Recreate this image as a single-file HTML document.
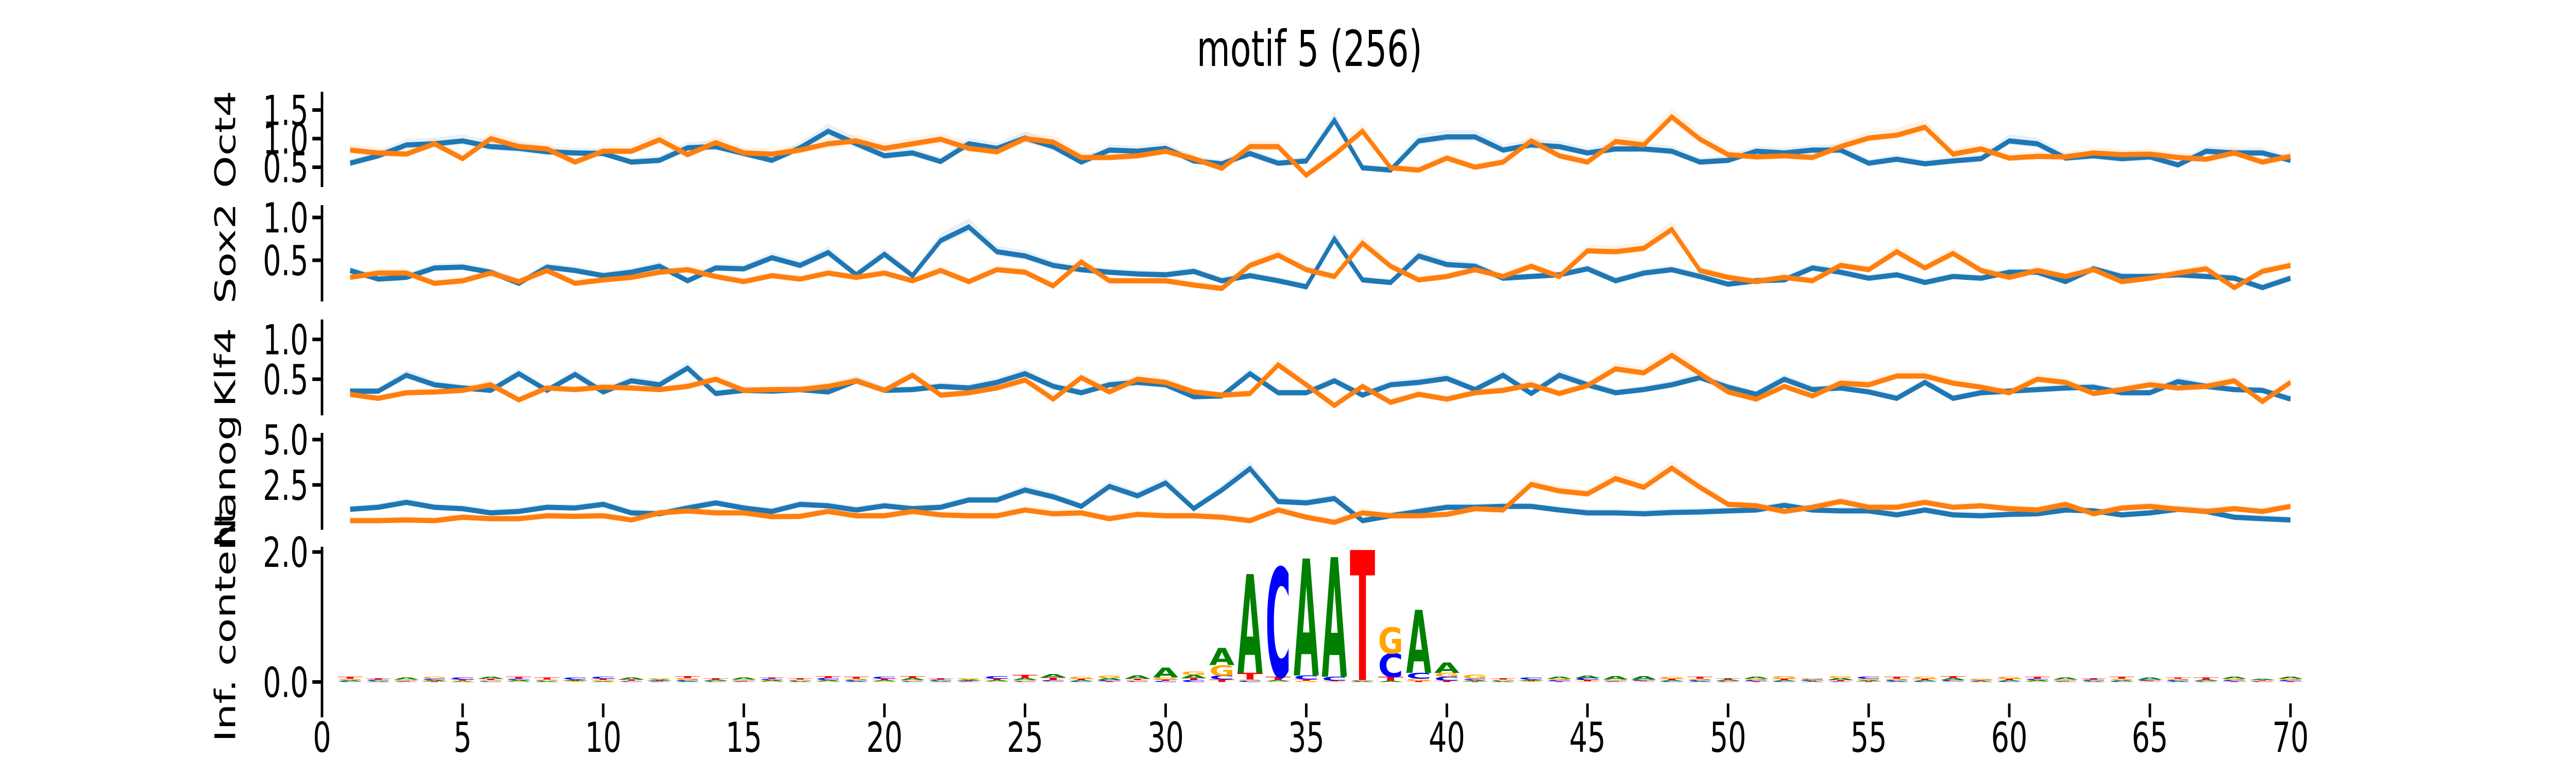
<!DOCTYPE html>
<html><head><meta charset="utf-8"><style>
html,body{margin:0;padding:0;background:#fff;width:100%;height:100%;overflow:hidden;}
svg{display:block;width:100vw;height:100vh;}
text{font-family:"DejaVu Sans","Liberation Sans",sans-serif;}
</style></head><body>
<svg id="chart" viewBox="0 0 7200 1500" preserveAspectRatio="none" xmlns="http://www.w3.org/2000/svg">
<text x="3660" y="128" font-size="96" text-anchor="middle">motif 5 (256)</text>
<g id="plots"></g>
</svg>
<script>
const positions = Array.from({length:70},(_,i)=>i+1);
const oct4Blue = [0.57,0.70,0.89,0.91,0.96,0.86,0.83,0.77,0.75,0.74,0.59,0.62,0.84,0.86,0.74,0.62,0.84,1.13,0.91,0.70,0.75,0.60,0.91,0.83,1.01,0.86,0.59,0.80,0.78,0.83,0.61,0.56,0.74,0.57,0.61,1.32,0.49,0.45,0.96,1.03,1.03,0.80,0.89,0.86,0.75,0.82,0.82,0.78,0.59,0.62,0.78,0.75,0.80,0.80,0.57,0.64,0.56,0.61,0.65,0.96,0.91,0.66,0.70,0.65,0.68,0.54,0.78,0.75,0.75,0.62];
const oct4Orange = [0.80,0.75,0.73,0.91,0.65,1.00,0.86,0.82,0.59,0.78,0.78,0.98,0.72,0.93,0.75,0.73,0.80,0.91,0.96,0.83,0.91,0.99,0.83,0.77,1.00,0.94,0.67,0.67,0.70,0.78,0.65,0.48,0.86,0.86,0.36,0.72,1.13,0.49,0.45,0.66,0.50,0.59,0.96,0.70,0.59,0.95,0.89,1.38,0.99,0.72,0.68,0.70,0.67,0.86,1.01,1.06,1.20,0.73,0.82,0.66,0.69,0.68,0.75,0.72,0.73,0.67,0.64,0.75,0.59,0.69];
const sox2Blue = [0.38,0.28,0.30,0.41,0.42,0.36,0.23,0.42,0.38,0.32,0.36,0.43,0.26,0.41,0.40,0.53,0.44,0.59,0.33,0.57,0.32,0.73,0.89,0.60,0.55,0.44,0.39,0.36,0.34,0.33,0.37,0.26,0.32,0.26,0.19,0.75,0.27,0.24,0.55,0.45,0.43,0.29,0.31,0.33,0.40,0.26,0.35,0.39,0.31,0.22,0.26,0.27,0.41,0.36,0.29,0.33,0.24,0.31,0.29,0.36,0.36,0.25,0.40,0.31,0.31,0.33,0.31,0.29,0.18,0.29];
const sox2Orange = [0.30,0.35,0.35,0.23,0.26,0.35,0.25,0.38,0.23,0.27,0.30,0.36,0.39,0.31,0.25,0.32,0.28,0.35,0.30,0.35,0.26,0.38,0.25,0.39,0.36,0.20,0.48,0.26,0.26,0.26,0.21,0.17,0.44,0.56,0.39,0.31,0.70,0.43,0.27,0.31,0.39,0.31,0.43,0.31,0.61,0.60,0.64,0.86,0.38,0.30,0.25,0.30,0.26,0.44,0.39,0.60,0.41,0.58,0.38,0.30,0.38,0.31,0.39,0.25,0.29,0.35,0.40,0.18,0.37,0.44];
const klf4Blue = [0.35,0.35,0.55,0.43,0.39,0.36,0.57,0.36,0.56,0.34,0.48,0.43,0.64,0.32,0.36,0.35,0.37,0.34,0.48,0.36,0.37,0.41,0.39,0.46,0.57,0.41,0.33,0.43,0.46,0.43,0.28,0.29,0.57,0.33,0.33,0.48,0.30,0.43,0.46,0.51,0.37,0.55,0.32,0.55,0.43,0.33,0.37,0.43,0.52,0.40,0.31,0.50,0.37,0.39,0.34,0.26,0.46,0.26,0.33,0.35,0.37,0.39,0.40,0.33,0.33,0.47,0.41,0.37,0.36,0.25];
const klf4Orange = [0.31,0.26,0.33,0.34,0.36,0.43,0.24,0.39,0.37,0.40,0.39,0.37,0.41,0.50,0.36,0.37,0.37,0.41,0.48,0.36,0.55,0.30,0.33,0.39,0.49,0.25,0.52,0.34,0.50,0.46,0.34,0.30,0.32,0.68,0.43,0.17,0.41,0.21,0.31,0.25,0.33,0.36,0.43,0.32,0.42,0.63,0.58,0.80,0.57,0.34,0.25,0.41,0.29,0.45,0.43,0.54,0.54,0.45,0.40,0.33,0.50,0.46,0.32,0.37,0.43,0.39,0.41,0.48,0.22,0.46];
const nanogBlue = [1.16,1.27,1.54,1.27,1.19,0.96,1.04,1.27,1.23,1.43,0.96,0.91,1.23,1.51,1.23,1.04,1.43,1.35,1.12,1.35,1.19,1.27,1.67,1.67,2.22,1.85,1.32,2.42,1.90,2.61,1.20,2.22,3.40,1.59,1.51,1.75,0.53,0.80,1.04,1.27,1.27,1.32,1.32,1.12,0.96,0.96,0.91,0.98,1.01,1.07,1.12,1.38,1.12,1.07,1.07,0.85,1.12,0.85,0.80,0.88,0.91,1.12,1.07,0.85,0.96,1.16,1.04,0.72,0.64,0.57];
const nanogOrange = [0.53,0.53,0.57,0.53,0.72,0.64,0.64,0.80,0.77,0.80,0.57,0.96,1.07,0.96,0.96,0.75,0.77,1.04,0.80,0.80,1.04,0.85,0.80,0.80,1.12,0.91,0.96,0.64,0.88,0.80,0.80,0.72,0.53,1.12,0.72,0.44,0.96,0.80,0.80,0.88,1.19,1.12,2.53,2.17,2.01,2.85,2.37,3.43,2.37,1.43,1.35,1.04,1.27,1.59,1.27,1.27,1.54,1.27,1.35,1.19,1.12,1.43,0.91,1.23,1.32,1.16,1.04,1.19,1.04,1.32];
const bitsA = [0.02,0.01,0.03,0.02,0.01,0.03,0.02,0.01,0.02,0.01,0.03,0.02,0.01,0.02,0.03,0.02,0.01,0.02,0.01,0.02,0.03,0.01,0.02,0.02,0.03,0.05,0.02,0.03,0.05,0.15,0.05,0.26,1.52,0.02,1.80,1.84,0.01,0.02,0.97,0.16,0.02,0.01,0.02,0.03,0.04,0.05,0.05,0.02,0.01,0.02,0.03,0.02,0.01,0.03,0.02,0.01,0.02,0.03,0.01,0.02,0.02,0.03,0.01,0.02,0.03,0.01,0.02,0.03,0.02,0.03];
const bitsC = [0.01,0.02,0.01,0.02,0.03,0.01,0.02,0.01,0.03,0.03,0.01,0.01,0.02,0.01,0.01,0.02,0.01,0.03,0.02,0.03,0.01,0.02,0.01,0.04,0.01,0.02,0.01,0.02,0.01,0.02,0.03,0.06,0.02,1.68,0.06,0.06,0.01,0.36,0.09,0.06,0.02,0.01,0.03,0.02,0.03,0.01,0.02,0.01,0.02,0.01,0.02,0.01,0.02,0.01,0.03,0.02,0.01,0.02,0.01,0.01,0.02,0.01,0.02,0.01,0.02,0.02,0.01,0.02,0.01,0.02];
const bitsG = [0.02,0.01,0.02,0.03,0.01,0.02,0.01,0.02,0.01,0.02,0.01,0.02,0.03,0.01,0.02,0.01,0.02,0.01,0.02,0.01,0.02,0.01,0.02,0.01,0.02,0.01,0.03,0.04,0.02,0.03,0.05,0.16,0.02,0.01,0.02,0.01,0.01,0.40,0.03,0.06,0.06,0.02,0.01,0.02,0.01,0.02,0.01,0.03,0.02,0.01,0.02,0.04,0.02,0.03,0.02,0.02,0.03,0.01,0.02,0.03,0.01,0.02,0.01,0.02,0.01,0.02,0.01,0.02,0.01,0.02];
const bitsT = [0.03,0.02,0.01,0.01,0.02,0.02,0.03,0.03,0.01,0.02,0.02,0.01,0.03,0.02,0.01,0.02,0.02,0.03,0.03,0.02,0.03,0.02,0.01,0.02,0.05,0.04,0.02,0.01,0.02,0.02,0.03,0.04,0.10,0.05,0.02,0.01,2.00,0.06,0.02,0.02,0.01,0.02,0.01,0.01,0.02,0.01,0.01,0.02,0.03,0.02,0.01,0.02,0.01,0.02,0.01,0.03,0.02,0.03,0.01,0.02,0.03,0.01,0.02,0.03,0.01,0.02,0.03,0.01,0.01,0.01];
const xTicks = [0,5,10,15,20,25,30,35,40,45,50,55,60,65,70];

const NS='http://www.w3.org/2000/svg';
const root=document.getElementById('plots');
function el(tag,attrs,parent){const e=document.createElementNS(NS,tag);for(const k in attrs)e.setAttribute(k,attrs[k]);(parent||root).appendChild(e);return e;}
const X0=900, XS=78.6;
function xs(v){return X0+XS*v;}
const SPINE_X=900;

const panels=[
 {name:'Oct4',top:178,bottom:363,lo:0.153,hi:1.82,ticks:[0.5,1.0,1.5],b:oct4Blue,o:oct4Orange},
 {name:'Sox2',top:398,bottom:585,lo:0.018,hi:1.145,ticks:[0.5,1.0],b:sox2Blue,o:sox2Orange},
 {name:'Klf4',top:620,bottom:806,lo:0.046,hi:1.25,ticks:[0.5,1.0],b:klf4Blue,o:klf4Orange},
 {name:'Nanog',top:840,bottom:1028,lo:0.03,hi:5.37,ticks:[2.5,5.0],b:nanogBlue,o:nanogOrange}
];

function yAxis(p,ys,g){
  const sp=el('line',{x1:SPINE_X,x2:SPINE_X,y1:p.top,y2:p.bottom,stroke:'#000','stroke-width':7},g);
  
  
  p.ticks.forEach(t=>{
    const y=ys(t);
    el('line',{x1:SPINE_X-27,x2:SPINE_X,y1:y,y2:y,stroke:'#000','stroke-width':7},g);
    const tx=el('text',{x:SPINE_X-38,y:y+29,'font-size':80,'text-anchor':'end'},g);
    tx.textContent=t.toFixed(1);
    
    
  });
  const cy=(p.top+p.bottom)/2;
  const lab=el('text',{x:0,y:0,'font-size':80,'text-anchor':'middle',transform:`translate(657,${cy}) rotate(-90)`},g);
  lab.textContent=p.label||p.name;
  
  
}

panels.forEach(p=>{
  const g=el('g',{});
  
  
  const ys=v=>p.bottom-(v-p.lo)/(p.hi-p.lo)*(p.bottom-p.top);
  [[p.b,'#1f77b4','blue'],[p.o,'#ff7f0e','orange']].forEach(([arr,col,nm])=>{
    const span=p.hi-p.lo;
    const up=arr.map((v,i)=>[xs(positions[i]),ys(v+0.04*span+0.1*Math.max(0,v-0.3*span))]);
    const dn=arr.map((v,i)=>[xs(positions[i]),ys(v-0.03*span-0.05*Math.max(0,v-0.3*span))]);
    const band=el('polygon',{points:up.concat(dn.reverse()).map(q=>q.join(',')).join(' '),fill:col,'fill-opacity':0.1,stroke:'none'},g);
    
    
  });
  [[p.b,'#1f77b4','blue'],[p.o,'#ff7f0e','orange']].forEach(([arr,col,nm])=>{
    const line=el('polyline',{points:arr.map((v,i)=>xs(positions[i])+','+ys(v)).join(' '),fill:'none',stroke:col,'stroke-width':10,'stroke-linejoin':'miter','stroke-miterlimit':4},g);
    
    
  });
  yAxis(p,ys,g);
});

const L={name:'Logo',label:'Inf. content',top:1061,bottom:1365,lo:-0.33,hi:2.08,ticks:[0.0,2.0]};
const lg=el('g',{});


const lys=v=>L.bottom-(v-L.lo)/(L.hi-L.lo)*(L.bottom-L.top);
const colors={A:'#008000',C:'#0000ff',G:'#ffa500',T:'#ff0000'};
const capH=0.729, glyphW=0.9*XS;
positions.forEach((pos,i)=>{
  const stack=[['A',bitsA[i]],['C',bitsC[i]],['G',bitsG[i]],['T',bitsT[i]]].sort((a,b)=>a[1]-b[1]);
  let base=0;
  stack.forEach(([b,h])=>{
    if(h<=0)return;
    const y0=lys(base), y1=lys(base+h);
    const hp=y0-y1;
    const fs=100;
    const t=el('text',{x:0,y:0,'font-size':fs,'font-weight':'bold',fill:colors[b],
      transform:`translate(${xs(pos)-glyphW/2},${y0}) scale(${glyphW/(fs*0.72)},${hp/(fs*capH)})`},lg);
    t.textContent=b;
    t.setAttribute('textLength',fs*0.72);
    t.setAttribute('lengthAdjust','spacingAndGlyphs');
    
    
    base+=h;
  });
});
yAxis(L,lys,lg);
xTicks.forEach(v=>{
  const x=xs(v);
  el('line',{x1:x,x2:x,y1:L.bottom,y2:L.bottom+27,stroke:'#000','stroke-width':7},lg);
  const t=el('text',{x:x,y:1459,'font-size':80,'text-anchor':'middle'},lg);
  t.textContent=String(v);
  
  
});
</script>
</body></html>
